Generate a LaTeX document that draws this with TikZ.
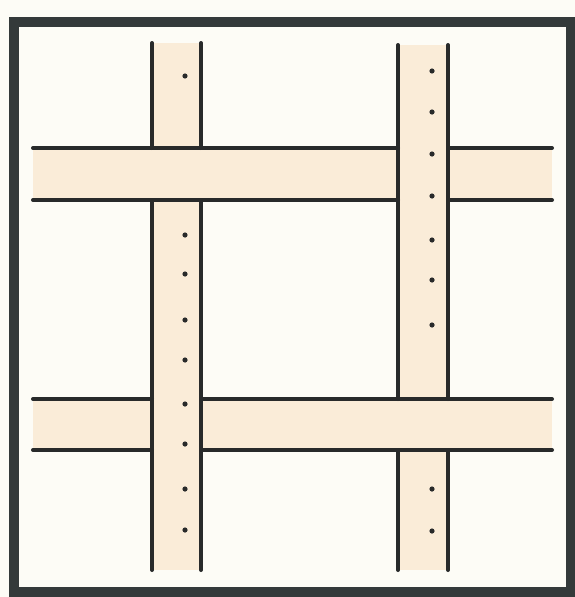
\documentclass[tikz,border=0pt]{standalone}
\usepackage{tikz}

\definecolor{paper}{RGB}{253,252,246}
\definecolor{tape}{RGB}{250,236,216}
\definecolor{ink}{RGB}{40,42,42}
\definecolor{rim}{RGB}{52,58,58}

\begin{document}
\begin{tikzpicture}[x=1pt, y=-1pt,
  strip/.style={fill=tape},
  edge/.style={draw=ink, line width=4pt, line cap=round},
  rim/.style={draw=rim, line width=10pt},
  hole/.style={fill=ink, draw=none}]
\fill[paper] (0,0) rectangle (575,597);
\useasboundingbox (0,0) rectangle (575,597);
% tapes
\fill[strip] (152,43) rectangle (201,570);
\fill[strip] (398,45) rectangle (448,570);
\fill[strip] (33,148) rectangle (552,200);
\fill[strip] (33,399) rectangle (552,450);
% left vertical tape, under the top one
\draw[edge] (152,43) -- (152,148) (152,200) -- (152,570);
\draw[edge] (201,43) -- (201,148) (201,200) -- (201,570);
% right vertical tape, under the bottom one
\draw[edge] (398,45) -- (398,399) (398,450) -- (398,570);
\draw[edge] (448,45) -- (448,399) (448,450) -- (448,570);
% horizontal tapes
\draw[edge] (33,148) -- (398,148) (448,148) -- (552,148);
\draw[edge] (33,200) -- (398,200) (448,200) -- (552,200);
\draw[edge] (33,399) -- (152,399) (201,399) -- (552,399);
\draw[edge] (33,450) -- (152,450) (201,450) -- (552,450);
% holes
\foreach \y in {76,235,274,320,360,404,444,489,530}
  \fill[hole] (185,\y) circle (2.6pt);
\foreach \y in {71,112,154,196,240,280,325,489,531}
  \fill[hole] (432,\y) circle (2.6pt);
% frame
\draw[rim] (14,22) rectangle (571,592);
\end{tikzpicture}
\end{document}
